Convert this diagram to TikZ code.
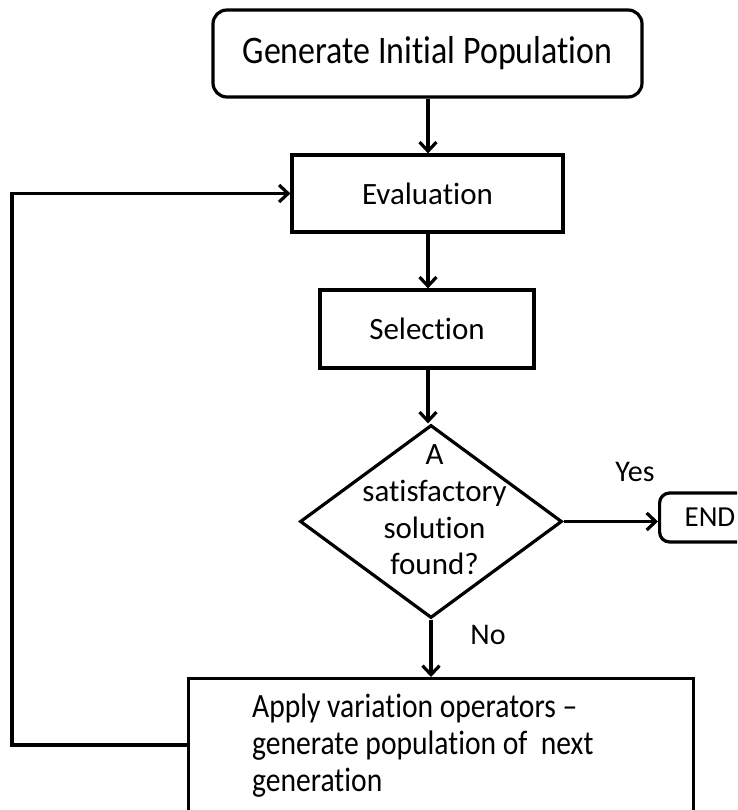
\documentclass[tikz,border=0pt]{standalone}
\usepackage{fontspec}
\setmainfont{Carlito}[Ligatures={TeX,NoCommon,NoContextual}]
\newfontfamily\tallfont{Carlito}[FakeStretch=0.87,Ligatures={TeX,NoCommon,NoContextual}]
\usetikzlibrary{positioning,shapes.geometric,arrows.meta}

\begin{document}
\begin{tikzpicture}[
    x=1pt, y=-1pt,
    every node/.style={font=\fontsize{31}{36.7}\selectfont},
    block/.style={rectangle, draw, line width=3.2pt, inner sep=0pt},
    roundblock/.style={block, rounded corners=14pt},
    decision/.style={diamond, draw, line width=3.2pt, inner sep=0pt, minimum width=262pt, minimum height=193pt},
    arrow/.style={-{Straight Barb[length=9pt,width=17pt,line width=3.2pt]}, line width=3.2pt},
    tag/.style={inner sep=0pt},
    bigtext/.style={font=\tallfont\fontsize{39}{44}\selectfont}
]

%% ---- Frame ----
\useasboundingbox (0,0) rectangle (737,810);
\clip (0,0) rectangle (737,810);

%% ---- Main column ----
\node[roundblock, bigtext, minimum width=429pt, minimum height=87pt] (gen) at (427.5,53.5) {Generate Initial Population};
\node[block, minimum width=271pt, minimum height=77pt] (eval) at (427.5,193.5) {Evaluation};
\node[block, minimum width=214pt, minimum height=78pt] (sel) at (427,329) {Selection};

%% ---- Decision ----
\node[decision] (dec) at (431,521.5) {};
\node[tag, align=center] (decText) at (434.5,510) {A\\satisfactory\\solution\\found?};

%% ---- End ----
\node[roundblock, rounded corners=10pt, anchor=west, inner xsep=25pt, minimum height=49pt, font=\fontsize{29}{34}\selectfont] (finish) at (658,517.5) {END};

%% ---- Next generation ----
\node[block, anchor=north west, minimum width=505pt, minimum height=136pt] (apply) at (187,677) {};
\node[tag, anchor=west, align=left, font=\tallfont\fontsize{34}{37}\selectfont] (applyText) at (252,746) {Apply variation operators \textendash\\generate population of \ next\\generation};

%% ---- Arrows ----
\draw[arrow] (gen.south -| 428,0) -- (eval.north -| 428,0);
\draw[arrow] (eval.south -| 428,0) -- (sel.north -| 428,0);
\draw[arrow] (sel.south -| 428,0) -- (dec.north -| 428,0);
\draw[arrow] (dec.east) -- (dec.east -| finish.west);
\draw[arrow] (dec.south) -- (dec.south |- apply.north);
\draw[arrow] (apply.west |- 0,745) -- (12,745) |- (eval.west);

%% ---- Branch labels ----
\node[tag, font=\fontsize{30}{34}\selectfont] (yesLbl) at (635,472) {Yes};
\node[tag, font=\fontsize{30}{34}\selectfont] (noLbl) at (488,635) {No};

\end{tikzpicture}
\end{document}
